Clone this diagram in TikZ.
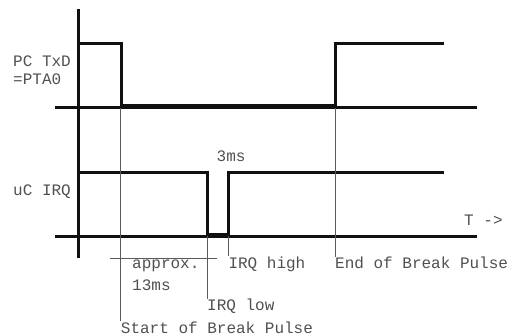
\documentclass[tikz,border=0pt]{standalone}
\usepackage{fontspec}
\usepackage{tikz}
\newfontfamily\plotfont{Liberation Mono}
\definecolor{ink}{HTML}{101010}
\definecolor{lblgray}{HTML}{505050}
\definecolor{guidegray}{HTML}{5A5A5A}

\begin{document}
\begin{tikzpicture}[x=1pt,y=-1pt,
  sig/.style={line width=3pt,line join=miter,ink},
  axisline/.style={line width=3pt,ink},
  guide/.style={line width=0.8pt,guidegray},
  lbl/.style={font=\plotfont\fontsize{16}{18}\selectfont,text=lblgray,inner sep=0pt,anchor=base west}]
\useasboundingbox (0,0) rectangle (511,335);
\draw[axisline] (78,9) -- (78,258);
\draw[axisline] (55,107.5) -- (477,107.5);
\draw[axisline] (55,236) -- (477,236);
% PC TxD trace
\draw[sig] (78,43) -- (121,43) -- (121,105) -- (335.5,105) -- (335.5,43) -- (444,43);
% uC IRQ trace
\draw[sig] (78,172.5) -- (207,172.5) -- (207,234) -- (228.3,234) -- (228.3,172.5) -- (444,172.5);
\coordinate (brkon) at (120.7,107.5);
\coordinate (brkoff) at (335,107.5);
\coordinate (irqlo) at (207,236);
\coordinate (irqhi) at (228.3,236);
\coordinate (spanl) at (110,258);
\coordinate (spanr) at (217,258);
\node[lbl] (txd) at (13,66) {PC TxD};
\node[lbl] (pta) at (13,84) {=PTA0};
\node[lbl] (irq) at (13,195) {uC IRQ};
\node[lbl] (dur) at (216.5,161) {3ms};
\node[lbl] (tarrow) at (464,225) {T ->};
\node[lbl] (apx) at (132,268.3) {approx.};
\node[lbl] (apxms) at (132,290) {13ms};
\node[lbl] (hi) at (228.3,268) {IRQ high};
\node[lbl] (lo) at (207,310.5) {IRQ low};
\node[lbl] (eob) at (335,268.3) {End of Break Pulse};
\node[lbl] (sob) at (120.7,333) {Start of Break Pulse};
% markers
\draw[guide] (brkon) -- (sob.north west);
\draw[guide] (brkoff) -- (eob.north west);
\draw[guide] (irqlo) -- (lo.north west);
\draw[guide] (irqhi) -- (hi.north west);
\draw[guide] (spanl) -- (spanr);
\end{tikzpicture}
\end{document}
